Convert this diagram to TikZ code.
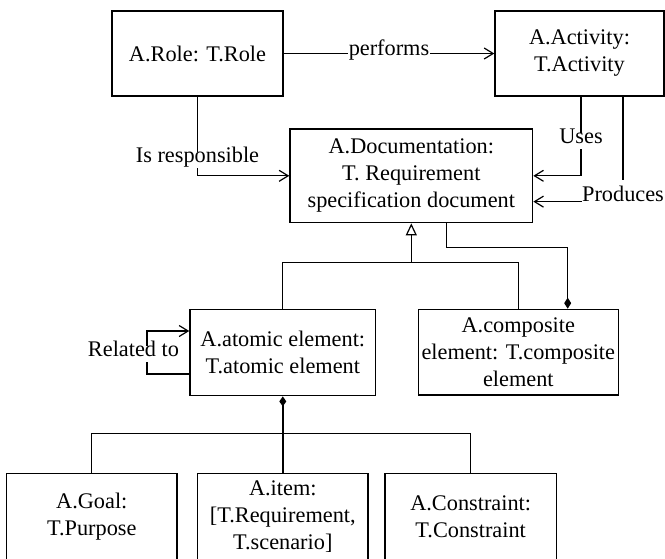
\documentclass[tikz,border=0pt]{standalone}
\usepackage{fontspec}
\setmainfont{Liberation Serif}
\usetikzlibrary{arrows.meta,calc}
\begin{document}
\begin{tikzpicture}[x=1pt,y=-1pt,
  txt/.style={font=\fontsize{22.3}{27}\selectfont},
  box/.style={txt, draw, line width=1.4pt, align=center, inner sep=0pt},
  lbl/.style={txt, fill=white, inner xsep=1pt, inner ysep=3pt,
    text height=0.72em, text depth=0.26em},
  line/.style={line width=1.2pt},
  assoc/.style={line, -{Straight Barb[length=9pt,width=11pt]}},
  inh/.style={line, -{Triangle[open,length=12pt,width=11pt]}},
  compo/.style={line width=1.5pt}
]
\useasboundingbox (0,0) rectangle (665,558);
\clip (0,0) rectangle (665,558);

% classes
\node[box, minimum width=171pt, minimum height=85pt] (role) at (197.5,53.5) {A.Role: T.Role};
\node[box, minimum width=169pt, minimum height=85pt] (act) at (579.5,53.5) {A.Activity:\\T.Activity};
\node[box, minimum width=242.7pt, minimum height=93.7pt] (doc) at (411.3,175.8)
  {A.Documentation:\\T. Requirement\\specification document};
\node[box, minimum width=185.7pt, minimum height=86.4pt] (atom) at (282.8,352.5)
  {A.atomic element:\\T.atomic element};
\node[box, minimum width=200pt, minimum height=85.7pt] (comp) at (518.3,352.2)
  {A.composite\\element: T.composite\\element};
\node[box, minimum width=170.5pt, minimum height=87pt] (goal) at (91.8,516.8) {A.Goal:\\T.Purpose};
\node[box, minimum width=170.4pt, minimum height=87pt] (item) at (282.8,516.8)
  {A.item:\\{[}T.Requirement,\\T.scenario{]}};
\node[box, minimum width=171.4pt, minimum height=87pt] (cons) at (470.7,516.8)
  {A.Constraint:\\T.Constraint};

% associations
\draw[assoc] (role.east) -- node[lbl] {performs} (act.west);
\draw[assoc] (role.south) |- node[lbl, pos=0.40] {Is responsible} (doc.west);
\draw[assoc] ($(act.south)+(1.5,0)$) |- node[lbl, pos=0.28] {Uses} (doc.east);

\node[txt, inner xsep=0pt, inner ysep=6pt] (prod) at (623,194) {Produces};
\draw[line] (act.south -| prod.north) -- (prod.north);
\draw[assoc] (prod.base west) -- (doc.east |- prod.base west);

% self association
\draw[assoc] ($(atom.west)+(0,21.5)$) -- ++(-42.3,0) -- ++(0,-43) -- ($(atom.west)+(0,-21.5)$);
\node[lbl] (rel) at (133.5,354) {Related to};

% generalisation
\coordinate (j1) at ($(doc.south)+(0,39)$);
\draw[line] (atom.north) |- (j1) -| (comp.north);
\draw[inh] (j1) -- (doc.south);

% composition of the document
\draw[compo, -{Diamond[length=11pt,width=7pt]}]
  ($(doc.south)+(35.4,0)$) -- ++(0,24) -| ($(comp.north)+(49.4,0)$);

% composition of the atomic element
\coordinate (j2) at ($(item.north)+(0,-39)$);
\draw[compo, {Diamond[length=10pt,width=7pt]}-] (atom.south) -- (item.north);
\draw[line] (goal.north) |- (j2) -| (cons.north);
\end{tikzpicture}
\end{document}
